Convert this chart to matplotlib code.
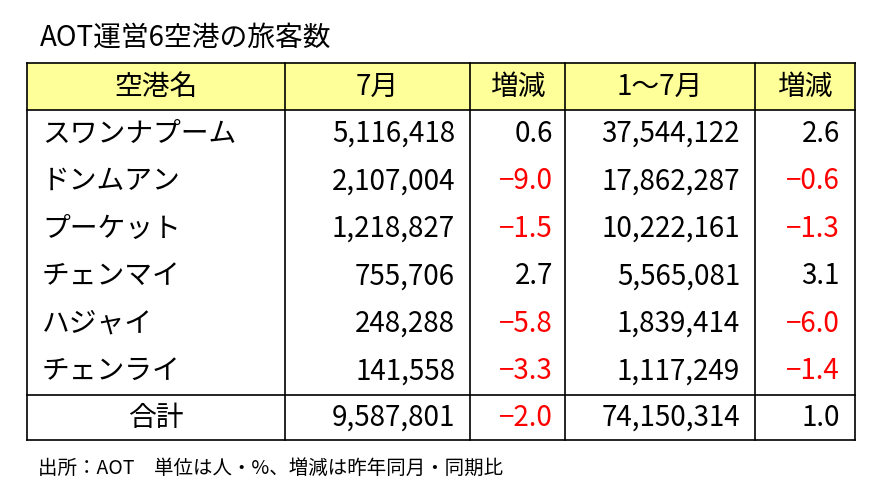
import matplotlib
matplotlib.use("Agg")
import matplotlib.pyplot as plt
from matplotlib.patches import Rectangle

plt.rcParams['font.family'] = ['Noto Sans CJK JP', 'DejaVu Sans']

title = "AOT運営6空港の旅客数"
headers = ["空港名", "7月", "増減", "1～7月", "増減"]
airports = ["スワンナプーム", "ドンムアン", "プーケット", "チェンマイ", "ハジャイ", "チェンライ"]
july = ["5,116,418", "2,107,004", "1,218,827", "755,706", "248,288", "141,558"]
july_chg = [0.6, -9.0, -1.5, 2.7, -5.8, -3.3]
ytd = ["37,544,122", "17,862,287", "10,222,161", "5,565,081", "1,839,414", "1,117,249"]
ytd_chg = [2.6, -0.6, -1.3, 3.1, -6.0, -1.4]
total_label = "合計"
total_july = "9,587,801"
total_july_chg = -2.0
total_ytd = "74,150,314"
total_ytd_chg = 1.0
footnote = "出所：AOT　単位は人・%、増減は昨年同月・同期比"

fig = plt.figure(figsize=(8.83, 4.97), dpi=100)
ax = fig.add_axes([0, 0, 1, 1])
ax.set_xlim(0, 883); ax.set_ylim(497, 0); ax.axis('off')

cols = [27, 285, 470, 565, 755, 855]
top, hdr_bot, data_bot, bot = 63, 110, 395, 440
fs = 20

ax.add_patch(Rectangle((cols[0], top), cols[-1]-cols[0], hdr_bot-top, facecolor='#FFFF99', edgecolor='none'))
for y in [top, hdr_bot, data_bot, bot]:
    ax.plot([cols[0], cols[-1]], [y, y], color='black', lw=1.2)
for x in cols:
    ax.plot([x, x], [top, bot], color='black', lw=1.2)

ax.text(40, 38, title, fontsize=20, va='center', ha='left')
for i, h in enumerate(headers):
    ax.text((cols[i]+cols[i+1])/2, (top+hdr_bot)/2, h, fontsize=fs, ha='center', va='center')

def fmt(v):
    return ("−%.1f" % -v) if v < 0 else "%.1f" % v

def col(v):
    return 'red' if v < 0 else 'black'

rh = (data_bot - hdr_bot) / len(airports)
for r in range(len(airports)):
    y = hdr_bot + rh*(r+0.5)
    ax.text(42, y, airports[r], fontsize=fs, ha='left', va='center')
    ax.text(455, y, july[r], fontsize=fs, ha='right', va='center')
    ax.text(553, y, fmt(july_chg[r]), fontsize=fs, ha='right', va='center', color=col(july_chg[r]))
    ax.text(740, y, ytd[r], fontsize=fs, ha='right', va='center')
    ax.text(840, y, fmt(ytd_chg[r]), fontsize=fs, ha='right', va='center', color=col(ytd_chg[r]))

y = (data_bot+bot)/2
ax.text((cols[0]+cols[1])/2, y, total_label, fontsize=fs, ha='center', va='center')
ax.text(455, y, total_july, fontsize=fs, ha='right', va='center')
ax.text(553, y, fmt(total_july_chg), fontsize=fs, ha='right', va='center', color=col(total_july_chg))
ax.text(740, y, total_ytd, fontsize=fs, ha='right', va='center')
ax.text(840, y, fmt(total_ytd_chg), fontsize=fs, ha='right', va='center', color=col(total_ytd_chg))

ax.text(38, 468, footnote, fontsize=14, ha='left', va='center')
fig.savefig("out.png", dpi=100)
